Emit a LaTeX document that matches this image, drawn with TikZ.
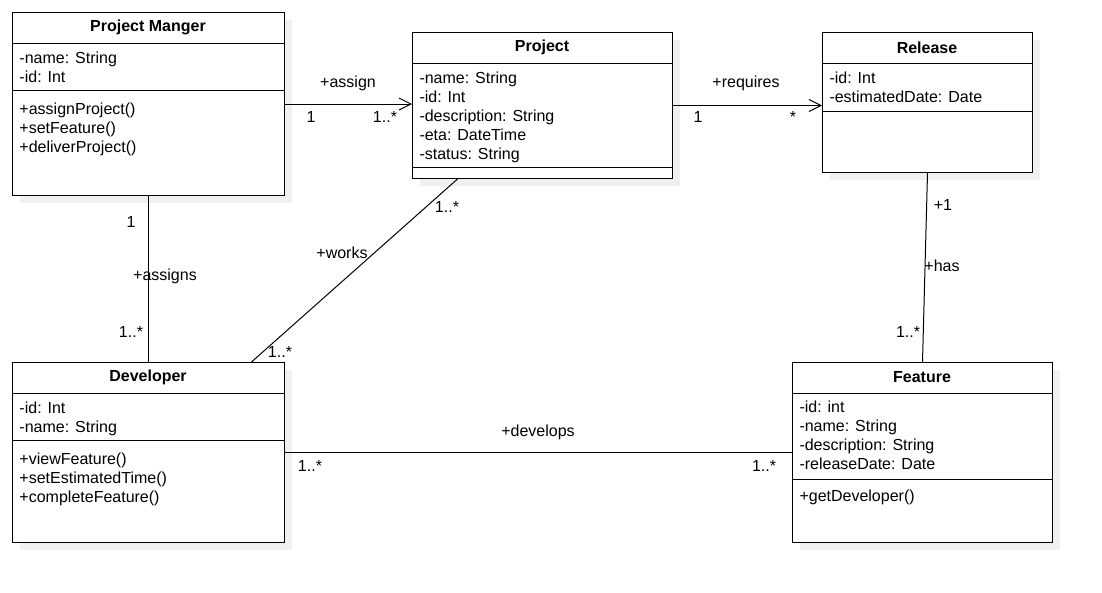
\documentclass[tikz,border=0pt]{standalone}
\usepackage{fontspec}
\setmainfont{Liberation Sans}
\usetikzlibrary{arrows.meta}
\usetikzlibrary{shadows}

\tikzset{
  classbox/.style={draw, fill=white, line width=1pt, inner sep=0pt, anchor=north west,
    drop shadow={shadow xshift=7pt, shadow yshift=-7pt, opacity=1, fill=black!6}},
  classname/.style={font=\fontsize{16}{19}\selectfont\bfseries, inner sep=0pt},
  member/.style={anchor=base west, inner sep=0pt},
  assoc/.style={line width=1pt},
  navig/.style={line width=1pt, -{Straight Barb[length=12pt, width=12pt]}},
  mult/.style={inner sep=1pt},
}

\begin{document}
\begin{tikzpicture}[x=1pt, y=-1pt, font=\fontsize{16}{19}\selectfont, line width=1pt]
\useasboundingbox (0,0) rectangle (1102,592);

% Project Manger
\node[classbox, minimum width=272pt, minimum height=183pt] (pm) at (12,12) {};
\node[classname] (pm-name) at (148,27.5) {Project Manger};
\draw (12,43) -- (284,43);
\draw (12,90) -- (284,90);
\foreach \t [count=\i] in {-name: String, -id: Int}
  \node[member] (pm-a\i) at (19,{44+19*\i}) {\t};
\foreach \t [count=\i] in {+assignProject(), +setFeature(), +deliverProject()}
  \node[member] (pm-m\i) at (19,{95+19*\i}) {\t};

% Project
\node[classbox, minimum width=260pt, minimum height=146pt] (proj) at (412,32) {};
\node[classname] (proj-name) at (542,47.5) {Project};
\draw (412,63) -- (672,63);
\draw (412,167) -- (672,167);
\foreach \t [count=\i] in {-name: String, -id: Int, -description: String, -eta: DateTime, -status: String}
  \node[member] (proj-a\i) at (419,{64+19*\i}) {\t};

% Release
\node[classbox, minimum width=210pt, minimum height=140pt] (rel) at (822,32) {};
\node[classname] (rel-name) at (927,47.5) {Release};
\draw (822,63) -- (1032,63);
\draw (822,111) -- (1032,111);
\foreach \t [count=\i] in {-id: Int, -estimatedDate: Date}
  \node[member] (rel-a\i) at (829,{64+19*\i}) {\t};

% Developer
\node[classbox, minimum width=272pt, minimum height=180pt] (dev) at (12,362) {};
\node[classname] (dev-name) at (148,377.5) {Developer};
\draw (12,393) -- (284,393);
\draw (12,440) -- (284,440);
\foreach \t [count=\i] in {-id: Int, -name: String}
  \node[member] (dev-a\i) at (19,{394+19*\i}) {\t};
\foreach \t [count=\i] in {+viewFeature(), +setEstimatedTime(), +completeFeature()}
  \node[member] (dev-m\i) at (19,{445+19*\i}) {\t};

% Feature
\node[classbox, minimum width=260pt, minimum height=180pt] (feat) at (792,362) {};
\node[classname] (feat-name) at (922,377.5) {Feature};
\draw (792,393) -- (1052,393);
\draw (792,479) -- (1052,479);
\foreach \t [count=\i] in {-id: int, -name: String, -description: String, -releaseDate: Date}
  \node[member] (feat-a\i) at (799,{393+19*\i}) {\t};
\node[member] (feat-m1) at (799,501) {+getDeveloper()};

% associations
\draw[navig] (pm.east) -- (pm.east -| proj.west);
\node (assign) at (348,83) {+assign};
\node[mult] (assign-s) at (311,117) {1};
\node[mult] (assign-t) at (385,117) {1..*};

\draw[navig] (proj.east) -- (proj.east -| rel.west);
\node (requires) at (746,83) {+requires};
\node[mult] (requires-s) at (698,117) {1};
\node[mult] (requires-t) at (793,117) {*};

\draw[assoc] (pm.south) -- (dev.north);
\node (assigns) at (165,276) {+assigns};
\node[mult] (assigns-s) at (131,222) {1};
\node[mult] (assigns-t) at (131,332) {1..*};

\draw[assoc] ([xshift=-85pt]proj.south) -- ([xshift=103pt]dev.north);
\node (works) at (342,253) {+works};
\node[mult] (works-s) at (447,207) {1..*};
\node[mult] (works-t) at (280,352) {1..*};

\draw[assoc] (rel.south) -- (feat.north);
\node (has) at (942,266) {+has};
\node[mult] (has-s) at (943,205) {+1};
\node[mult] (has-t) at (908,332) {1..*};

\draw[assoc] (dev.east) -- (feat.west);
\node (develops) at (538,432) {+develops};
\node[mult] (develops-s) at (310,466) {1..*};
\node[mult] (develops-t) at (764,466) {1..*};
\end{tikzpicture}
\end{document}
